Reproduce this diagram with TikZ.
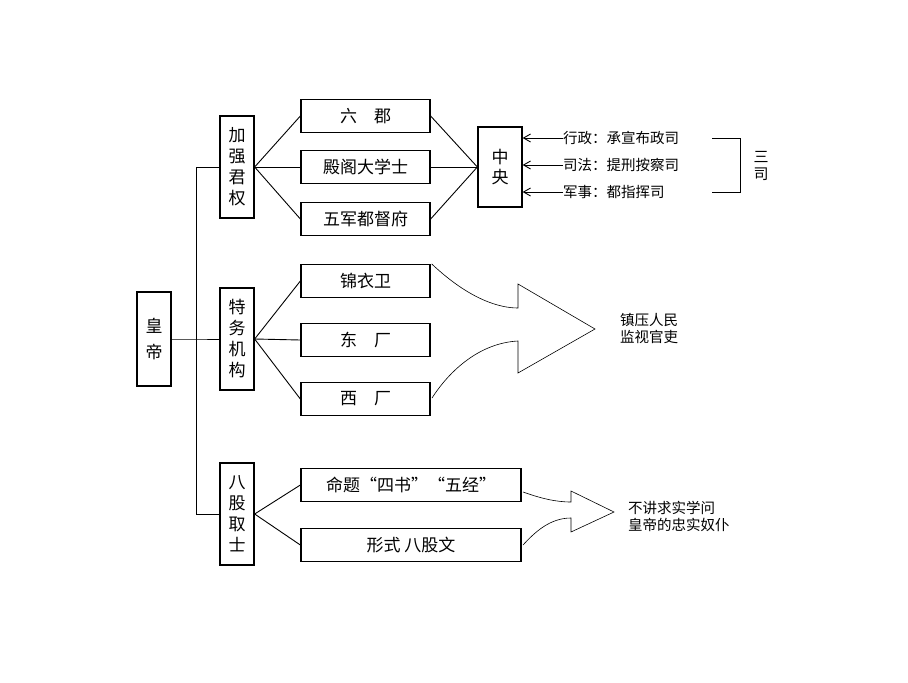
\documentclass[tikz,border=0pt]{standalone}
\usetikzlibrary{arrows.meta}
\usepackage{fontspec}
\setmainfont{Noto Sans CJK SC}
\begin{document}
\begin{tikzpicture}[x=1pt,y=-1pt,
 bx/.style={draw,line width=1.3pt,inner sep=0pt,font=\fontsize{17}{20}\selectfont},
 ln/.style={line width=0.9pt},
 lab/.style={font=\fontsize{14.5}{17}\selectfont,anchor=west,inner sep=0pt},
 arr/.style={line width=0.6pt}]
\useasboundingbox (0,0) rectangle (908,683);
\node[bx,minimum width=34pt,minimum height=94pt,text width=18pt,align=center] (hd) at (154,339) {皇\\[6pt]帝};
\node[bx,minimum width=34pt,minimum height=102pt,text width=18pt,align=center,font=\fontsize{17}{21}\selectfont] (a) at (237,167) {加\\强\\君\\权};
\node[bx,minimum width=34pt,minimum height=102pt,text width=18pt,align=center,font=\fontsize{17}{21}\selectfont] (b) at (237,339) {特\\务\\机\\构};
\node[bx,minimum width=34pt,minimum height=102pt,text width=18pt,align=center,font=\fontsize{17}{21}\selectfont] (c) at (237,514) {八\\股\\取\\士};
\foreach \n/\y/\t in {a1/116/六\quad 郡,a2/167/殿阁大学士,a3/219/五军都督府,b1/281/锦衣卫,b2/340/东\quad 厂,b3/399/西\quad 厂}
  \node[bx,minimum width=129pt,minimum height=33pt] (\n) at (365.5,\y) {\t};
\node[bx,minimum width=220pt,minimum height=33pt] (c1) at (411,485) {命题“四书”“五经”};
\node[bx,minimum width=220pt,minimum height=33pt] (c2) at (411,545) {形式\ 八股文};
\node[bx,minimum width=44pt,minimum height=80pt,text width=20pt,align=center] (z) at (500,167) {中\\央};
\coordinate (t1) at (196,167); \coordinate (t2) at (196,514);
\draw[ln] (hd.east) -- (196,339) -- (b.west);
\draw[ln] (t1) -- (a.west); \draw[ln] (t2) -- (c.west); \draw[ln] (t1) -- (t2);
\foreach \n in {a1,a2,a3} {\draw[ln] (a.east) -- (\n.west); \draw[ln] (\n.east) -- (z.west);}
\foreach \n in {b1,b2,b3} \draw[ln] (b.east) -- (\n.west);
\foreach \n in {c1,c2} \draw[ln] (c.east) -- (\n.west);
\node[lab] (r1) at (563,138) {行政：承宣布政司};
\node[lab] (r2) at (563,165) {司法：提刑按察司};
\node[lab] (r3) at (563,192) {军事：都指挥司};
\foreach \r in {r1,r2,r3} \draw[ln,-{Straight Barb[length=7pt,width=8pt]}] (\r.west) -- (\r.west -| z.east);
\coordinate (k1) at (712,138); \coordinate (k2) at (712,192);
\draw[ln] (k1) -- (740,138) -- (740,192) -- (k2);
\node[font=\fontsize{15}{17}\selectfont,align=center,inner sep=0pt] (s) at (761,166) {三\\司};
\draw[arr] (b1.north east) ++(1,0) coordinate (p1) .. controls (470,300) and (500,308) .. (518,308) -- (518,284) -- (595,329) -- (518,373) -- (518,341) .. controls (480,343) and (450,370) .. (432,398);
\node[lab,align=left] (m) at (620,329) {镇压人民\\监视官吏};
\draw[arr] (523,492) .. controls (540,498) and (555,502) .. (571,502) -- (571,491) -- (614,512) -- (571,532) -- (571,518) .. controls (550,518) and (535,532) .. (523,545);
\node[lab,align=left] (n) at (628,516) {不讲求实学问\\皇帝的忠实奴仆};
\end{tikzpicture}
\end{document}
